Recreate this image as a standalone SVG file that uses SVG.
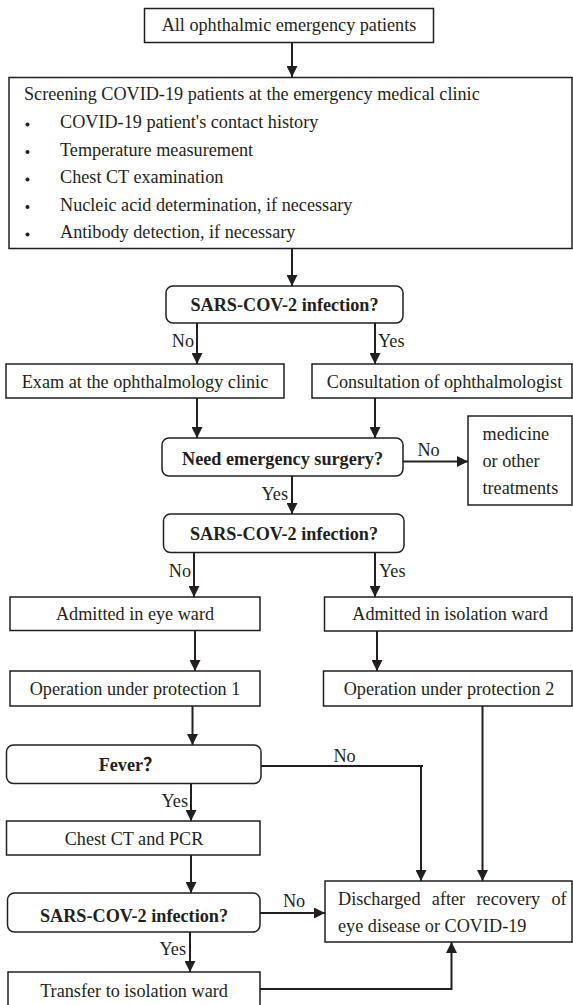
<svg xmlns="http://www.w3.org/2000/svg" width="573" height="1005" viewBox="0 0 573 1005">
<style>
  .box { fill: #fff; stroke: #231f20; stroke-width: 1.5; }
  .line { fill: none; stroke: #231f20; stroke-width: 2; }
  .arr { fill: none; stroke: #231f20; stroke-width: 2; marker-end: url(#ah); }
  text { font-family: "Liberation Serif", "Times New Roman", "Noto Sans CJK SC", serif; font-size: 18.2px; fill: #231f20; }
  .c { text-anchor: middle; }
  .b { font-weight: bold; }
  .e { text-anchor: end; }
</style>
<defs>
  <marker id="ah" markerUnits="userSpaceOnUse" markerWidth="11" markerHeight="11" refX="10" refY="5" orient="auto" viewBox="0 0 10 10">
    <path d="M0,0 L10,5 L0,10 z" fill="#231f20"/>
  </marker>
</defs>
<rect width="573" height="1005" fill="#fff"/>

<g id="connectors">
  <path class="arr" d="M292,42 V77"/>
  <path class="arr" d="M292,248.5 V286"/>
  <path class="arr" d="M197,323 V364"/>
  <path class="arr" d="M375,323 V364"/>
  <path class="arr" d="M197,398 V438"/>
  <path class="arr" d="M375,398 V438"/>
  <path class="arr" d="M403,461.5 H468"/>
  <path class="arr" d="M292,476 V514"/>
  <path class="arr" d="M194,552.5 V597"/>
  <path class="arr" d="M375,552.5 V597"/>
  <path class="arr" d="M195,630.5 V671"/>
  <path class="arr" d="M377,631 V671"/>
  <path class="arr" d="M192.5,706 V745"/>
  <path class="arr" d="M482.5,706 V881"/>
  <path class="line" d="M261,766 H423"/>
  <path class="arr" d="M421,766 V881"/>
  <path class="arr" d="M191,783.5 V821"/>
  <path class="arr" d="M191,855 V893"/>
  <path class="arr" d="M260,913 H325"/>
  <path class="arr" d="M190,932 V972"/>
  <path class="arr" d="M260,989 H451.5 V942"/>
  <text x="194" y="347" class="e">No</text>
  <text x="378" y="347">Yes</text>
  <text x="428.5" y="456" class="c">No</text>
  <text x="288" y="500" class="e">Yes</text>
  <text x="191" y="577" class="e">No</text>
  <text x="379" y="577">Yes</text>
  <text x="344.5" y="761.5" class="c">No</text>
  <text x="188" y="806.5" class="e">Yes</text>
  <text x="294" y="906.5" class="c">No</text>
  <text x="186" y="955" class="e">Yes</text>
</g>

<g id="n-all">
  <rect class="box" x="144.5" y="8.5" width="289" height="34"/>
  <text x="289" y="31" class="c">All ophthalmic emergency patients</text>
</g>

<g id="n-screening">
  <rect class="box" x="9" y="77.5" width="563" height="171"/>
  <text x="24" y="99.5">Screening COVID-19 patients at the emergency medical clinic</text>
  <circle cx="27.5" cy="124.5" r="2" fill="#231f20"/>
  <text x="60" y="128">COVID-19 patient's contact history</text>
  <circle cx="27.5" cy="152" r="2" fill="#231f20"/>
  <text x="60" y="155.5">Temperature measurement</text>
  <circle cx="27.5" cy="179.5" r="2" fill="#231f20"/>
  <text x="60" y="183">Chest CT examination</text>
  <circle cx="27.5" cy="207" r="2" fill="#231f20"/>
  <text x="60" y="210.5">Nucleic acid determination, if necessary</text>
  <circle cx="27.5" cy="234.5" r="2" fill="#231f20"/>
  <text x="60" y="238">Antibody detection, if necessary</text>
</g>

<g id="n-sars1">
  <rect class="box" x="166" y="286" width="237" height="37" rx="7"/>
  <text x="284.5" y="311" class="c b">SARS-COV-2 infection?</text>
</g>

<g id="n-exam">
  <rect class="box" x="6" y="364" width="278" height="34"/>
  <text x="145" y="388" class="c">Exam at the ophthalmology clinic</text>
</g>

<g id="n-consult">
  <rect class="box" x="312" y="364" width="260" height="34"/>
  <text x="444.5" y="388" class="c">Consultation of ophthalmologist</text>
</g>

<g id="n-need">
  <rect class="box" x="162" y="438" width="241" height="38" rx="7"/>
  <text x="282.5" y="465" class="c b">Need emergency surgery?</text>
</g>

<g id="n-medicine">
  <rect class="box" x="468" y="416" width="104" height="89"/>
  <text x="482.5" y="440">medicine</text>
  <text x="482.5" y="467">or other</text>
  <text x="482.5" y="494">treatments</text>
</g>

<g id="n-sars2">
  <rect class="box" x="163.5" y="514" width="240.5" height="38.5" rx="7"/>
  <text x="284" y="540" class="c b">SARS-COV-2 infection?</text>
</g>

<g id="n-eyeward">
  <rect class="box" x="10" y="597" width="250" height="33.5"/>
  <text x="135" y="620" class="c">Admitted in eye ward</text>
</g>

<g id="n-isoward">
  <rect class="box" x="324.5" y="597" width="247.5" height="34"/>
  <text x="450" y="620" class="c">Admitted in isolation ward</text>
</g>

<g id="n-op1">
  <rect class="box" x="10" y="671" width="250" height="35"/>
  <text x="135" y="695" class="c">Operation under protection 1</text>
</g>

<g id="n-op2">
  <rect class="box" x="323.5" y="671" width="248.5" height="35"/>
  <text x="449" y="695" class="c">Operation under protection 2</text>
</g>

<g id="n-fever">
  <rect class="box" x="6.5" y="745" width="254.5" height="38.5" rx="7"/>
  <text x="130" y="770.5" class="c b">Fever？</text>
</g>

<g id="n-chest">
  <rect class="box" x="6.5" y="821" width="253.5" height="34"/>
  <text x="134" y="845" class="c">Chest CT and PCR</text>
</g>

<g id="n-sars3">
  <rect class="box" x="7.5" y="893" width="252.5" height="39" rx="7"/>
  <text x="134" y="921.5" class="c b">SARS-COV-2 infection?</text>
</g>

<g id="n-transfer">
  <rect class="box" x="8" y="972" width="252" height="40"/>
  <text x="134" y="997" class="c">Transfer to isolation ward</text>
</g>

<g id="n-discharged">
  <rect class="box" x="325" y="881" width="247" height="61"/>
  <text x="338" y="905" word-spacing="6.8">Discharged after recovery of</text>
  <text x="338" y="932">eye disease or COVID-19</text>
</g>
</svg>
